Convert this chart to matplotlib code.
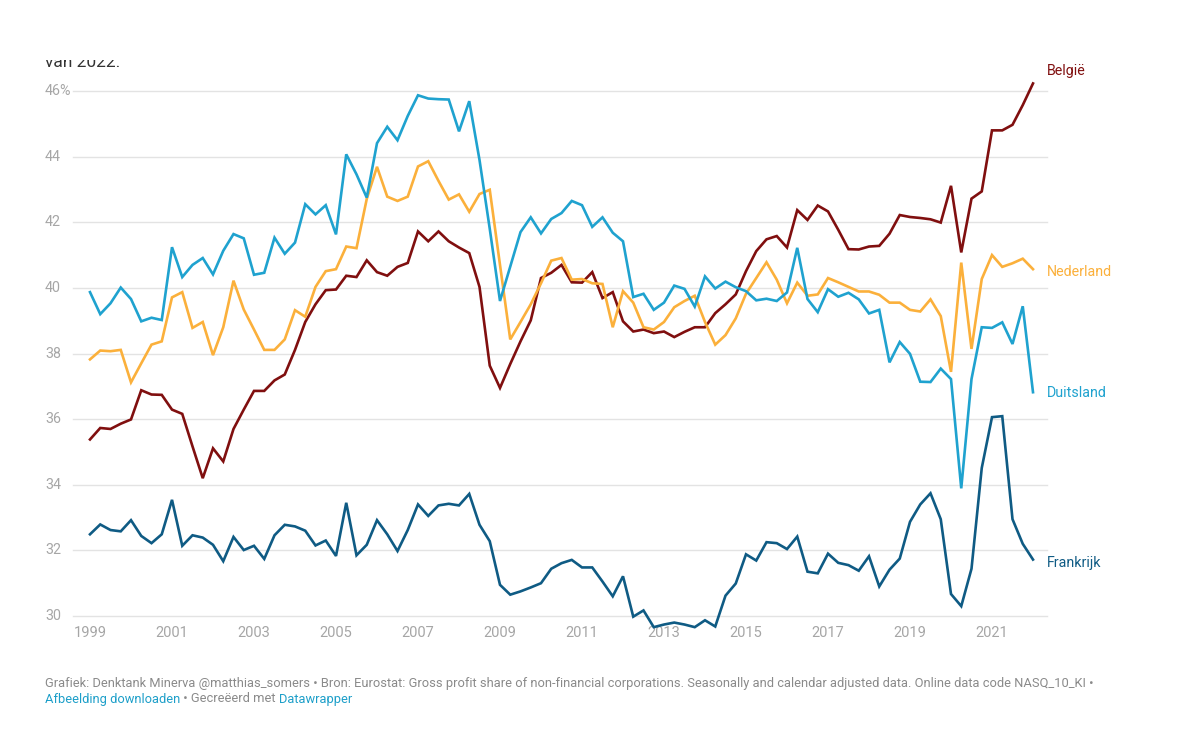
import numpy as np
import pandas as pd
import matplotlib
matplotlib.use("Agg")
import matplotlib.pyplot as plt
from matplotlib.patches import Rectangle
from matplotlib.transforms import blended_transform_factory

plt.rcParams['font.family'] = ['Roboto', 'DejaVu Sans']

# quarterly data 1999Q1 - 2022Q1, gross profit share (%)
quarters = pd.period_range("1999Q1", "2022Q1", freq="Q")

belgie = [35.38, 35.73, 35.70, 35.86, 35.99, 36.88, 36.75, 36.74, 36.29, 36.16,
          35.17, 34.20, 35.11, 34.71, 35.70, 36.29, 36.86, 36.86, 37.18, 37.36,
          38.11, 38.96, 39.50, 39.93, 39.95, 40.37, 40.33, 40.84, 40.48, 40.37,
          40.64, 40.76, 41.72, 41.42, 41.72, 41.42, 41.23, 41.06, 40.03, 37.63,
          36.95, 37.68, 38.37, 39.01, 40.30, 40.46, 40.70, 40.17, 40.16, 40.48,
          39.69, 39.87, 38.98, 38.67, 38.73, 38.62, 38.67, 38.50, 38.66, 38.80,
          38.80, 39.23, 39.50, 39.80, 40.51, 41.12, 41.48, 41.58, 41.23, 42.37,
          42.07, 42.51, 42.33, 41.77, 41.18, 41.17, 41.26, 41.28, 41.65, 42.22,
          42.16, 42.13, 42.09, 41.99, 43.11, 41.08, 42.72, 42.94, 44.80, 44.80,
          44.97, 45.57, 46.23]

nederland = [37.82, 38.09, 38.07, 38.11, 37.12, 37.70, 38.27, 38.37, 39.71, 39.87,
             38.78, 38.96, 37.95, 38.80, 40.22, 39.34, 38.73, 38.11, 38.11, 38.43,
             39.32, 39.12, 40.03, 40.51, 40.57, 41.26, 41.21, 42.71, 43.69, 42.78,
             42.65, 42.78, 43.70, 43.86, 43.26, 42.69, 42.85, 42.32, 42.86, 42.99,
             40.70, 38.43, 38.96, 39.50, 40.14, 40.83, 40.91, 40.25, 40.27, 40.14,
             40.12, 38.80, 39.90, 39.55, 38.80, 38.73, 38.96, 39.41, 39.60, 39.76,
             38.96, 38.27, 38.56, 39.07, 39.82, 40.30, 40.78, 40.25, 39.53, 40.16,
             39.76, 39.80, 40.30, 40.17, 40.03, 39.89, 39.89, 39.79, 39.55, 39.55,
             39.33, 39.28, 39.65, 39.14, 37.44, 40.77, 38.14, 40.27, 41.00, 40.64,
             40.75, 40.89, 40.57]

duitsland = [39.87, 39.20, 39.53, 40.01, 39.66, 38.98, 39.09, 39.02, 41.24, 40.33,
             40.70, 40.91, 40.41, 41.13, 41.64, 41.51, 40.40, 40.46, 41.53, 41.04,
             41.38, 42.55, 42.24, 42.52, 41.63, 44.07, 43.46, 42.75, 44.41, 44.91,
             44.50, 45.24, 45.87, 45.77, 45.75, 45.74, 44.77, 45.69, 43.90, 41.80,
             39.60, 40.65, 41.70, 42.15, 41.66, 42.10, 42.28, 42.65, 42.52, 41.86,
             42.15, 41.68, 41.42, 39.72, 39.82, 39.33, 39.55, 40.07, 39.97, 39.43,
             40.35, 39.98, 40.19, 40.02, 39.90, 39.62, 39.67, 39.60, 39.86, 41.22,
             39.66, 39.26, 39.96, 39.73, 39.85, 39.65, 39.22, 39.33, 37.73, 38.35,
             37.99, 37.14, 37.13, 37.54, 37.22, 33.89, 37.22, 38.80, 38.78, 38.95,
             38.29, 39.44, 36.82]

frankrijk = [32.49, 32.79, 32.62, 32.58, 32.92, 32.44, 32.22, 32.49, 33.54, 32.14,
             32.46, 32.39, 32.17, 31.67, 32.41, 32.01, 32.14, 31.74, 32.46, 32.78,
             32.73, 32.60, 32.15, 32.30, 31.83, 33.45, 31.85, 32.17, 32.92, 32.49,
             31.98, 32.62, 33.40, 33.05, 33.37, 33.42, 33.37, 33.72, 32.78, 32.28,
             30.95, 30.65, 30.75, 30.87, 31.00, 31.44, 31.61, 31.71, 31.48, 31.48,
             31.05, 30.60, 31.21, 29.98, 30.17, 29.66, 29.74, 29.80, 29.74, 29.66,
             29.87, 29.68, 30.62, 30.99, 31.88, 31.69, 32.25, 32.22, 32.04, 32.42,
             31.35, 31.30, 31.90, 31.62, 31.55, 31.38, 31.82, 30.90, 31.41, 31.75,
             32.87, 33.40, 33.74, 32.95, 30.67, 30.30, 31.44, 34.51, 36.06, 36.09,
             32.95, 32.20, 31.72]

series_names = ["België", "Nederland", "Duitsland", "Frankrijk"]
series_colors = ["#800f0f", "#fbb03b", "#1fa2cf", "#0f5b84"]

year_ticks = [1999, 2001, 2003, 2005, 2007, 2009, 2011, 2013, 2015, 2017, 2019, 2021]
y_ticks = [30, 32, 34, 36, 38, 40, 42, 44, 46]

W, H = 1200, 739
fig = plt.figure(figsize=(W / 100, H / 100), dpi=100)

# axes box in pixels: left 73, right 1047, top 91 (46%), bottom 616 (30%)
ax = fig.add_axes([73 / W, 1 - 616 / H, (1047 - 73) / W, (616 - 91) / H])
x = np.array([q.year + (q.quarter - 1) / 4 for q in quarters])
px_year = (1033 - 90) / 23.0
ax.set_xlim(1999 - (90 - 73) / px_year, 2022 + (1047 - 1033) / px_year)
ax.set_ylim(30, 46)
for s in ax.spines.values():
    s.set_visible(False)
ax.set_xticks([])
ax.set_yticks([])

grey = "#a6a6a6"
for v in y_ticks:
    ax.axhline(v, color="#e3e3e3", lw=1.0, zorder=0, clip_on=False)

# y labels sit left of the grid, left aligned
tr = blended_transform_factory(fig.transFigure, ax.transData)
for v in y_ticks:
    lab = "46%" if v == 46 else str(v)
    ax.text(45 / W, v, lab, transform=tr, ha="left", va="center",
            fontsize=10.3, color=grey)

# x labels
trx = blended_transform_factory(ax.transData, fig.transFigure)
for yr in year_ticks:
    ax.text(yr, 1 - 633 / H, str(yr), transform=trx, ha="center", va="center",
            fontsize=10.5, color=grey)

data = [belgie, nederland, duitsland, frankrijk]
label_y = [71, 272, 393, 563]
for vals, name, col, ly in zip(data, series_names, series_colors, label_y):
    ax.plot(x, vals, color=col, lw=1.9, clip_on=False, solid_joinstyle="miter",
            zorder=3)
    fig.text(1047 / W, 1 - ly / H, name, ha="left", va="center",
             fontsize=10.3, color=col)

# subtitle, cut off at the top like in the screenshot
fig.text(45 / W, 1 - 67 / H, "van 2022.", ha="left", va="baseline",
         fontsize=12.5, color="#333333")
fig.patches.append(Rectangle((0, 1 - 60 / H), 1, 60 / H, transform=fig.transFigure,
                             facecolor="white", edgecolor="none", zorder=10))

# footer
foot_grey = "#8a8a8a"
link_blue = "#1d9fc9"
fig.text(45 / W, 1 - 683 / H,
         "Grafiek: Denktank Minerva @matthias_somers \u2022 Bron: Eurostat: Gross profit share of "
         "non-financial corporations. Seasonally and calendar adjusted data. Online data code NASQ_10_KI \u2022",
         ha="left", va="center", fontsize=9.25, color=foot_grey)

pieces = [("Afbeelding downloaden", link_blue), (" \u2022 Gecreëerd met ", foot_grey),
          ("Datawrapper", link_blue)]
fig.canvas.draw()
r = fig.canvas.get_renderer()
xpos = 45
for txt, col in pieces:
    t = fig.text(xpos / W, 1 - 699 / H, txt, ha="left", va="center",
                 fontsize=9.25, color=col)
    xpos += t.get_window_extent(renderer=r).width

fig.savefig("out.png", dpi=100, facecolor="white")
